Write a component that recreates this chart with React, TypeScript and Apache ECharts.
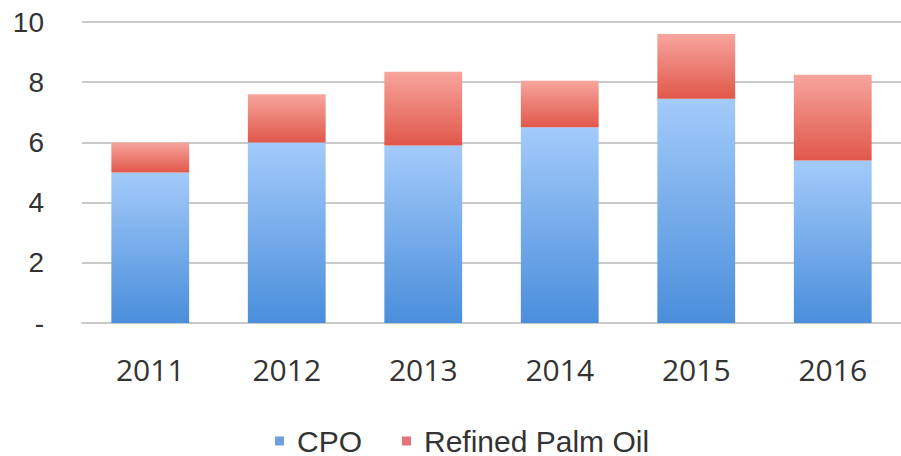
import React, { useEffect, useRef } from "react";
import * as echarts from "echarts";

const categories = ["2011", "2012", "2013", "2014", "2015", "2016"];
const cpo = [5.0, 6.0, 5.9, 6.5, 7.45, 5.4];
const refined = [1.0, 1.6, 2.45, 1.55, 2.15, 2.85];
const seriesNames = ["CPO", "Refined Palm Oil"];

export default function App() {
  const ref = useRef<HTMLDivElement>(null);
  useEffect(() => {
    if (!ref.current) return;
    const chart = echarts.init(ref.current, undefined, { renderer: "svg" });
    const blue = new echarts.graphic.LinearGradient(0, 0, 0, 1, [
      { offset: 0, color: "#a3cbfa" },
      { offset: 1, color: "#4a8edb" },
    ]);
    const red = new echarts.graphic.LinearGradient(0, 0, 0, 1, [
      { offset: 0, color: "#f7a59d" },
      { offset: 1, color: "#e1574a" },
    ]);
    chart.setOption({
      animation: false,
      backgroundColor: "#ffffff",
      grid: { left: 82, top: 22, width: 827, bottom: 133, containLabel: false },
      legend: {
        data: [
          { name: seriesNames[0], itemStyle: { color: "#6f9fe0" } },
          { name: seriesNames[1], itemStyle: { color: "#e3757a" } },
        ],
        top: 421,
        left: 270,
        icon: "rect",
        itemWidth: 9,
        itemHeight: 9,
        itemGap: 40,
        textStyle: {
          fontFamily: "Liberation Sans",
          fontSize: 30,
          color: "#333",
          padding: [0, 0, 0, 8],
        },
      },
      xAxis: {
        type: "category",
        data: categories,
        axisLine: { show: true, lineStyle: { color: "#c9c9c9", width: 2 } },
        axisTick: { show: false },
        axisLabel: { fontFamily: "Open Sans", fontSize: 30, color: "#333", margin: 31 },
      },
      yAxis: {
        type: "value",
        min: 0,
        max: 10,
        interval: 2,
        axisLine: { show: false },
        axisTick: { show: false },
        splitLine: { lineStyle: { color: "#c9c9c9", width: 2 } },
        axisLabel: {
          fontFamily: "Liberation Sans",
          fontSize: 28,
          color: "#333",
          margin: 38,
          formatter: (v: number) => (v === 0 ? "-" : String(v)),
        },
      },
      series: [
        {
          name: seriesNames[0],
          type: "bar",
          stack: "total",
          data: cpo,
          barWidth: "57%",
          itemStyle: { color: blue },
        },
        {
          name: seriesNames[1],
          type: "bar",
          stack: "total",
          data: refined,
          barWidth: "57%",
          itemStyle: { color: red },
        },
      ],
    });
    return () => chart.dispose();
  }, []);
  return <div ref={ref} style={{ width: 901, height: 456, position: "absolute", left: 0, top: 0 }} />;
}
